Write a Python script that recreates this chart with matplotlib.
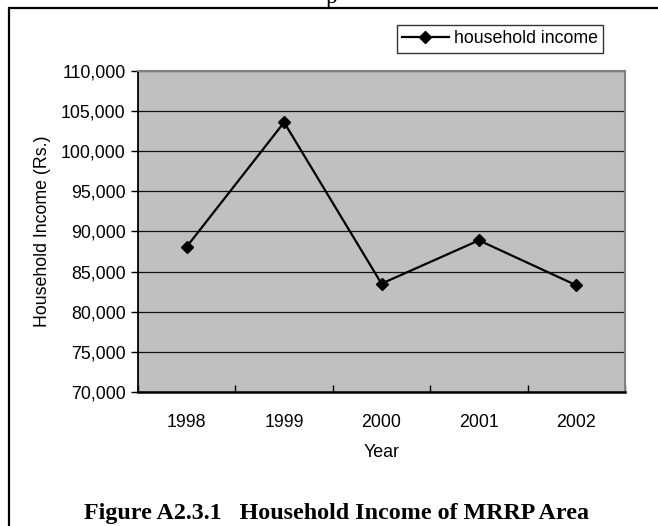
import matplotlib.pyplot as plt
from matplotlib.patches import Rectangle

years = ['1998', '1999', '2000', '2001', '2002']
income = [88100, 103600, 83500, 88900, 83300]
y_ticks = [70000, 75000, 80000, 85000, 90000, 95000, 100000, 105000, 110000]

plt.rcParams['font.family'] = ['Liberation Sans', 'DejaVu Sans']

fig = plt.figure(figsize=(6.58, 5.26), dpi=100)
ax = fig.add_axes([138 / 658, 1 - 392 / 526, 487 / 658, 321 / 526])

x = list(range(len(years)))
ax.plot(x, income, color='black', linewidth=1.6, marker='D', markersize=6.5,
        markerfacecolor='black', markeredgecolor='black', label='household income')

ax.set_facecolor('#c0c0c0')
ax.set_xlim(-0.5, len(years) - 0.5)
ax.set_ylim(70000, 110000)
ax.set_yticks(y_ticks)
ax.set_yticklabels(['{:,}'.format(v) for v in y_ticks], fontsize=12.8)
ax.yaxis.grid(True, color='#111111', linewidth=0.9)
ax.set_axisbelow(True)

# category labels centred, tick marks between categories
ax.set_xticks(x)
ax.set_xticklabels(years, fontsize=12.8)
ax.tick_params(axis='x', length=0, pad=16)
ax.set_xticks([i + 0.5 for i in range(-1, len(years))], minor=True)
ax.tick_params(axis='x', which='minor', direction='in', length=5, width=1)
ax.tick_params(axis='y', direction='out', length=5, width=1, pad=4)

ax.set_xlabel('Year', fontsize=12.8, labelpad=9)
ax.set_ylabel('Household Income (Rs.)', fontsize=12.8, labelpad=7)

for s in ['left', 'bottom']:
    ax.spines[s].set_color('black')
ax.spines['left'].set_linewidth(1.3)
ax.spines['bottom'].set_linewidth(1.8)
for s in ['top', 'right']:
    ax.spines[s].set_color('#808080')
    ax.spines[s].set_linewidth(1.5)

leg = fig.legend(loc='upper left', bbox_to_anchor=(397 / 658, 1 - 25 / 526),
                 fontsize=12.8, frameon=True, fancybox=False, handlelength=2.6,
                 borderpad=0.3, handletextpad=0.3, borderaxespad=0)
leg.get_frame().set_edgecolor('black')
leg.get_frame().set_linewidth(1)

# outer frame of the chart object
fig.patches.append(Rectangle((9 / 658, -0.2), 1.2, 1.2 - 8 / 526, transform=fig.transFigure,
                             fill=False, edgecolor='black', linewidth=1.6))

fig.text(336 / 658, 1 - 519 / 526, 'Figure A2.3.1   Household Income of MRRP Area',
         ha='center', va='baseline', fontsize=17.3, fontweight='bold',
         family='Liberation Serif')
# descender of a letter from the text above, cut by the top edge
fig.text(332 / 658, 1 - 3 / 526, 'p', ha='center', va='baseline', fontsize=17,
         family='Liberation Serif')

fig.savefig('out.png', dpi=100)
